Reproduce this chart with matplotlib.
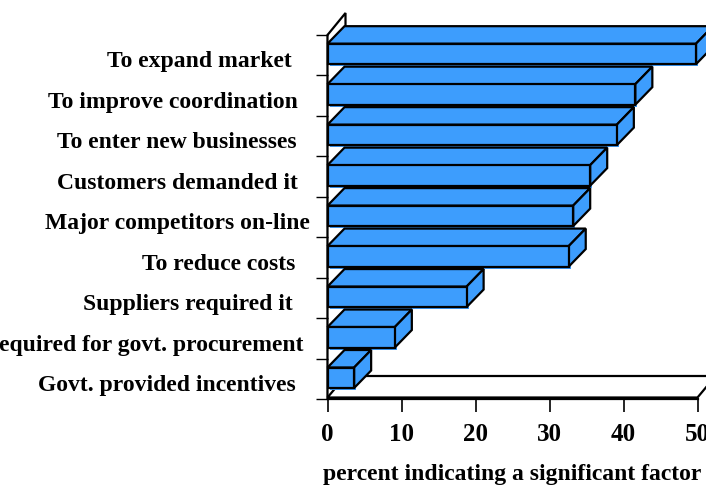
import matplotlib.pyplot as plt
from matplotlib.patches import Polygon, Rectangle

# categories from bottom to top
categories = ["Govt. provided incentives",
              "Required for govt. procurement",
              "Suppliers required it",
              "To reduce costs",
              "Major competitors on-line",
              "Customers demanded it",
              "To enter new businesses",
              "To improve coordination",
              "To expand market"]
values = [3.6, 9.1, 18.8, 32.6, 33.2, 35.5, 39.1, 41.6, 49.8]
xticks = [0, 10, 20, 30, 40, 50]
xlabel = "percent indicating a significant factor"

# label right edge, px left of the axis
label_shift = [31.5, 23.5, 34.5, 32.5, 17.5, 29.8, 30.8, 29.8, 35.8]

W, H = 706, 487
fig = plt.figure(figsize=(W / 100, H / 100), dpi=100)
x0, x1 = 327.5, 697.5
y0, y1 = 399.3, 35.0
ax = fig.add_axes([x0 / W, (H - y0) / H, (x1 - x0) / W, (y0 - y1) / H])
ax.set_xlim(0, 50)
ax.set_ylim(0, 9)

sx = (x1 - x0) / 50.0        # px per x unit
sy = (y0 - y1) / 9.0         # px per slot

blue = '#3d9dfd'
lw = 1.6
font = dict(family='Liberation Serif', fontweight='bold')

# depth of bars and of walls (px)
bdx, bdy = 17 / sx, 17.5 / sy
wdx, wdy = 18 / sx, 22 / sy

# left wall
wall = Polygon([(0, 0), (0, 9), (wdx, 9 + wdy), (wdx, wdy)], closed=True,
               facecolor='white', edgecolor='black', lw=lw, zorder=1,
               clip_on=False)
ax.add_patch(wall)

# floor
fy = 1.8 / sy
fdy = 21.5 / sy
floor = Polygon([(0, fy), (50, fy), (50 + wdx, fy + fdy), (wdx, fy + fdy)],
                closed=True, facecolor='white', edgecolor='black', lw=lw,
                zorder=2, clip_on=False, joinstyle='miter')
ax.add_patch(floor)

h = 20.5 / sy
off = 11.3 / sy
for i, v in enumerate(values):
    b = i + off
    t = b + h
    z = 10 - i
    shadow = Rectangle((2 / sx, b - 2 / sy), v, h, facecolor=blue,
                       edgecolor='none', zorder=z, clip_on=False)
    front = Rectangle((0, b), v, h, facecolor=blue, edgecolor='black',
                      lw=lw, zorder=z + 0.3, clip_on=False, joinstyle='miter')
    top = Polygon([(0, t), (v, t), (v + bdx, t + bdy), (bdx, t + bdy)],
                  closed=True, facecolor=blue, edgecolor='black', lw=lw,
                  zorder=z + 0.2, clip_on=False, joinstyle='miter')
    side = Polygon([(v, b), (v + bdx, b + bdy), (v + bdx, t + bdy), (v, t)],
                   closed=True, facecolor=blue, edgecolor='black', lw=lw,
                   zorder=z + 0.2, clip_on=False, joinstyle='miter')
    for p in (shadow, top, side, front):
        ax.add_patch(p)
    ax.annotate(categories[i], xy=(0, i + 0.2),
                xycoords=('axes fraction', 'data'),
                xytext=(-label_shift[i] * 0.72, 0), textcoords='offset points',
                ha='right', va='baseline', fontsize=17,
                annotation_clip=False, **font)

for s in ('top', 'right'):
    ax.spines[s].set_visible(False)
ax.spines['left'].set_linewidth(lw)
ax.spines['left'].set_zorder(0.5)
ax.spines['bottom'].set_linewidth(lw)
ax.spines['bottom'].set_zorder(20)

ax.set_yticks(range(10))
ax.set_yticklabels([])
ax.set_xticks(xticks)
ax.tick_params(axis='y', direction='out', length=8.6, width=1.0)
ax.tick_params(axis='x', direction='out', length=9.4, width=1.2, pad=8,
               labelsize=18)
ax.set_xticklabels([str(t) for t in xticks], fontsize=18, **font)

fig.text((x0 + x1) / 2 / W, 7 / H, xlabel, ha='center', va='baseline',
         fontsize=17, **font)

fig.savefig('out.png', dpi=100)
